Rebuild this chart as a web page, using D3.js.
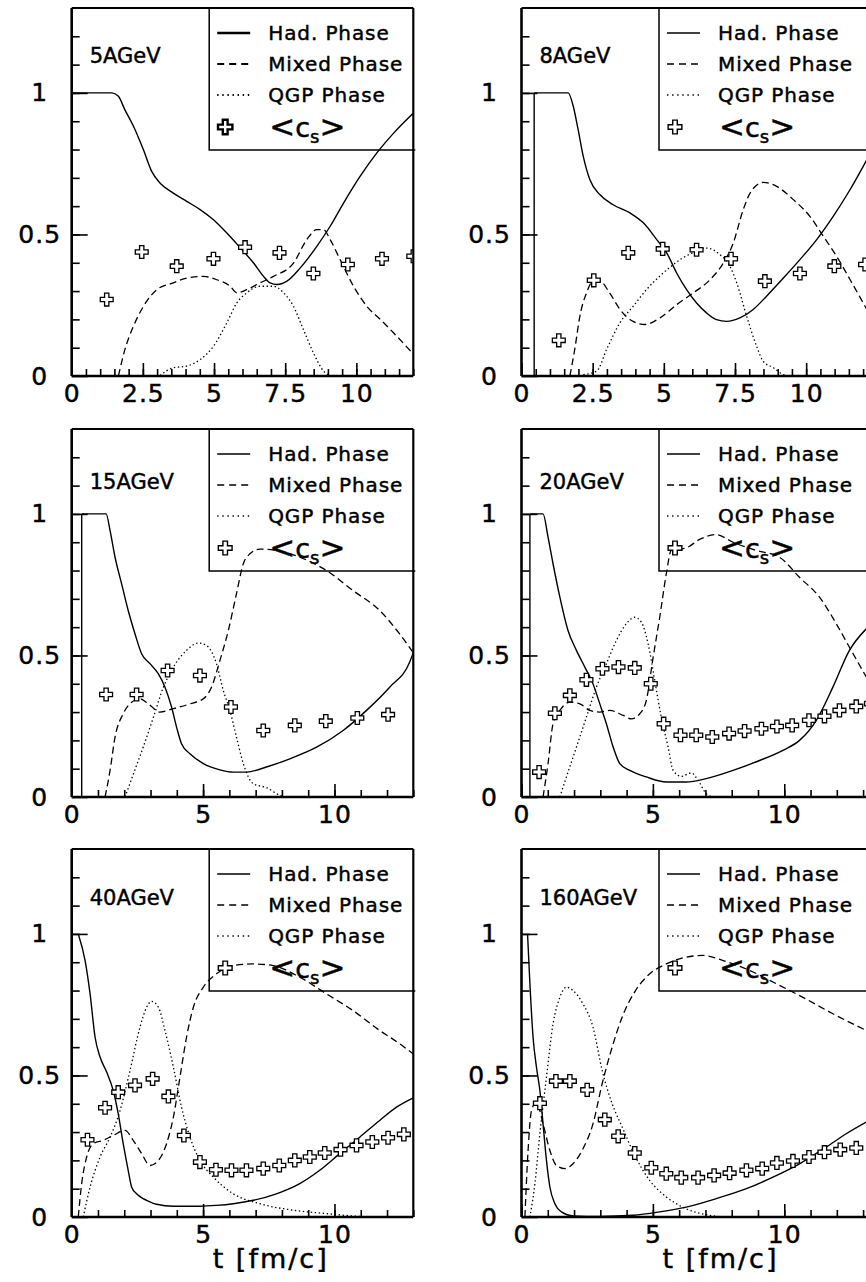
<!DOCTYPE html>
<html>
<head>
<meta charset="utf-8">
<script src="https://cdn.jsdelivr.net/npm/d3@7"></script>
<style>
  body { margin: 0; background: #fff; }
  text { font-family: "DejaVu Sans", sans-serif; fill: #000; stroke: #000; stroke-width: 0.45px; }
</style>
</head>
<body>
<div id="chart"></div>
<script>
// beam energies, one panel each
const energies = ["5AGeV", "8AGeV", "15AGeV", "20AGeV", "40AGeV", "160AGeV"];
const tMax = [12, 12, 13, 13, 13, 13];
const xLabels = [[0, 2.5, 5, 7.5, 10], [0, 2.5, 5, 7.5, 10], [0, 5, 10], [0, 5, 10], [0, 5, 10], [0, 5, 10]];
const xMinorStep = [0.5, 0.5, 1, 1, 1, 1];
const yLabels = [0, 0.5, 1];
const legendNames = ["Had. Phase", "Mixed Phase", "QGP Phase"];

// [t, fraction]
const had5 = [[0,1],[1.41,1],[1.64,0.988],[1.87,0.94],[2.17,0.882],[2.52,0.799],[2.81,0.723],[3.1,0.682],[3.57,0.646],[4.04,0.617],[4.51,0.588],[4.98,0.552],[5.45,0.505],[5.92,0.453],[6.39,0.399],[6.74,0.352],[6.97,0.329],[7.21,0.323],[7.56,0.335],[8.03,0.382],[8.61,0.458],[9.08,0.529],[9.55,0.611],[10.13,0.705],[10.72,0.788],[11.31,0.858],[12.07,0.935]];
const mixed5 = [[1.64,0],[1.87,0.094],[2.17,0.176],[2.52,0.246],[2.99,0.305],[3.57,0.329],[4.04,0.346],[4.63,0.352],[5.1,0.34],[5.57,0.317],[5.8,0.294],[6.15,0.305],[6.62,0.329],[7.09,0.352],[7.79,0.399],[8.26,0.482],[8.61,0.517],[8.85,0.517],[9.08,0.482],[9.43,0.411],[9.9,0.317],[10.37,0.246],[10.84,0.2],[11.31,0.152],[12.07,0.07]];
const qgp5 = [[3.1,0.002],[3.57,0.029],[4.04,0.035],[4.51,0.058],[4.98,0.105],[5.45,0.188],[5.8,0.258],[6.15,0.294],[6.62,0.317],[7.09,0.317],[7.44,0.294],[7.79,0.246],[8.14,0.164],[8.49,0.082],[8.85,0.017],[9.08,0]];
const cs5 = [[1.23,0.27],[2.46,0.438],[3.69,0.388],[4.98,0.414],[6.09,0.455],[7.3,0.435],[8.49,0.362],[9.7,0.394],[10.9,0.414],[12.0,0.423]];

const had8 = [[0.445,0],[0.445,1],[1.64,1],[1.82,0.952],[1.99,0.87],[2.17,0.776],[2.4,0.694],[2.75,0.641],[3.22,0.605],[3.81,0.576],[4.28,0.541],[4.75,0.482],[5.1,0.435],[5.45,0.364],[5.8,0.305],[6.15,0.258],[6.5,0.223],[6.85,0.199],[7.21,0.193],[7.67,0.205],[8.14,0.235],[8.61,0.282],[9.2,0.346],[9.78,0.411],[10.37,0.482],[10.95,0.564],[11.54,0.658],[12.13,0.764]];
const mixed8 = [[1.7,0],[1.87,0.094],[2.05,0.211],[2.28,0.293],[2.52,0.335],[2.75,0.335],[3.1,0.293],[3.46,0.235],[3.92,0.193],[4.34,0.182],[4.86,0.205],[5.45,0.252],[6.03,0.293],[6.62,0.34],[7.09,0.399],[7.44,0.47],[7.79,0.588],[8.03,0.646],[8.49,0.684],[8.96,0.67],[9.55,0.623],[10.13,0.564],[10.6,0.494],[11.07,0.423],[11.54,0.341],[12.13,0.235]];
const qgp8 = [[2.17,0.005],[2.64,0.017],[2.99,0.094],[3.46,0.188],[3.92,0.246],[4.39,0.305],[4.98,0.364],[5.57,0.411],[6.15,0.441],[6.5,0.452],[6.97,0.429],[7.32,0.388],[7.56,0.329],[7.91,0.211],[8.26,0.105],[8.49,0.052],[8.85,0.029],[9.2,0.005],[9.43,0]];
const cs8 = [[1.31,0.126],[2.54,0.338],[3.75,0.435],[4.96,0.449],[6.15,0.446],[7.36,0.414],[8.55,0.335],[9.78,0.362],[10.99,0.388],[12.07,0.394]];

const had15 = [[0.38,0],[0.38,1],[1.31,1],[1.46,0.941],[1.65,0.847],[1.9,0.753],[2.15,0.659],[2.41,0.576],[2.66,0.506],[2.98,0.471],[3.3,0.435],[3.55,0.388],[3.8,0.318],[3.99,0.247],[4.18,0.188],[4.5,0.153],[5.01,0.118],[5.64,0.096],[6.15,0.088],[6.65,0.088],[7.41,0.106],[8.3,0.135],[9.32,0.176],[10.33,0.235],[11.22,0.306],[12.1,0.388],[12.86,0.476],[13.0,0.51]];
const mixed15 = [[1.27,0],[1.46,0.094],[1.65,0.212],[1.96,0.294],[2.28,0.335],[2.6,0.347],[2.92,0.329],[3.36,0.3],[3.87,0.312],[4.5,0.329],[5.01,0.347],[5.32,0.388],[5.64,0.482],[5.96,0.588],[6.27,0.718],[6.53,0.824],[6.78,0.859],[7.16,0.876],[7.79,0.871],[8.68,0.847],[9.7,0.8],[10.71,0.729],[11.72,0.659],[12.48,0.576],[13.0,0.51]];
const qgp15 = [[2.03,0],[2.35,0.082],[2.72,0.176],[3.11,0.282],[3.49,0.388],[3.87,0.459],[4.37,0.518],[4.82,0.544],[5.13,0.535],[5.51,0.471],[5.77,0.376],[6.02,0.306],[6.27,0.212],[6.53,0.118],[6.91,0.047],[7.41,0.033],[7.92,0.006],[8.17,0]];
const cs15 = [[1.31,0.362],[2.47,0.362],[3.65,0.447],[4.88,0.429],[6.06,0.318],[7.29,0.235],[8.49,0.253],[9.67,0.268],[10.87,0.279],[12.04,0.291]];

const had20 = [[0.32,0],[0.32,1],[0.82,1],[1.01,0.918],[1.2,0.824],[1.46,0.706],[1.77,0.588],[2.09,0.518],[2.41,0.459],[2.72,0.4],[2.98,0.329],[3.23,0.259],[3.49,0.176],[3.74,0.118],[4.12,0.094],[4.75,0.071],[5.51,0.053],[6.27,0.053],[7.03,0.065],[8.05,0.094],[9.06,0.129],[9.95,0.165],[10.58,0.2],[11.22,0.271],[11.85,0.388],[12.48,0.518],[13.12,0.594]];
const mixed20 = [[0.82,0],[1.01,0.118],[1.2,0.259],[1.46,0.306],[1.84,0.335],[2.22,0.329],[2.6,0.306],[2.98,0.3],[3.36,0.306],[3.87,0.288],[4.18,0.276],[4.5,0.294],[4.75,0.341],[5.01,0.494],[5.26,0.635],[5.51,0.788],[5.7,0.871],[6.27,0.88],[6.78,0.91],[7.41,0.927],[8.05,0.9],[8.94,0.871],[9.82,0.847],[10.58,0.776],[11.34,0.706],[11.98,0.612],[12.48,0.529],[13.12,0.424]];
const qgp20 = [[1.46,0],[1.71,0.071],[2.09,0.176],[2.47,0.282],[2.85,0.388],[3.23,0.471],[3.61,0.553],[3.99,0.612],[4.31,0.635],[4.56,0.618],[4.82,0.541],[5.07,0.412],[5.32,0.282],[5.58,0.176],[5.77,0.094],[6.08,0.073],[6.46,0.085],[6.72,0.059],[7.03,0.012],[7.29,0]];
const cs20 = [[0.67,0.088],[1.27,0.296],[1.84,0.359],[2.47,0.414],[3.08,0.453],[3.69,0.459],[4.31,0.456],[4.92,0.4],[5.41,0.259],[6.05,0.218],[6.65,0.218],[7.26,0.212],[7.9,0.224],[8.49,0.233],[9.13,0.241],[9.72,0.249],[10.3,0.253],[10.94,0.271],[11.53,0.285],[12.1,0.306],[12.74,0.32],[13.3,0.33]];

const had40 = [[0.25,1],[0.51,0.906],[0.7,0.788],[0.89,0.635],[1.08,0.565],[1.33,0.512],[1.58,0.447],[1.77,0.365],[1.96,0.259],[2.15,0.165],[2.28,0.106],[2.47,0.082],[2.72,0.065],[2.85,0.059],[3.23,0.045],[3.87,0.038],[4.88,0.038],[5.51,0.041],[6.15,0.047],[6.91,0.059],[7.79,0.082],[8.68,0.118],[9.44,0.165],[10.2,0.224],[10.96,0.282],[11.72,0.341],[12.36,0.388],[13.0,0.421]];
const mixed40 = [[0.25,0],[0.38,0.118],[0.57,0.212],[0.82,0.259],[1.2,0.271],[1.58,0.288],[2.03,0.306],[2.34,0.271],[2.66,0.224],[2.98,0.182],[3.3,0.2],[3.61,0.259],[3.87,0.353],[4.12,0.494],[4.37,0.635],[4.63,0.741],[5.01,0.812],[5.51,0.859],[6.15,0.888],[6.91,0.894],[7.67,0.888],[8.68,0.847],[9.7,0.788],[10.71,0.729],[11.72,0.659],[12.48,0.612],[13.0,0.576]];
const qgp40 = [[0.44,0],[0.7,0.106],[1.08,0.212],[1.46,0.282],[1.84,0.376],[2.22,0.518],[2.6,0.671],[2.85,0.741],[3.04,0.762],[3.3,0.741],[3.55,0.659],[3.87,0.529],[4.18,0.388],[4.5,0.282],[4.88,0.2],[5.39,0.141],[6.15,0.082],[7.16,0.047],[8.43,0.024],[9.7,0.012],[10.96,0.002],[11.6,0]];
const cs40 = [[0.6,0.273],[1.27,0.386],[1.77,0.441],[2.41,0.465],[3.08,0.488],[3.68,0.426],[4.27,0.288],[4.88,0.194],[5.49,0.167],[6.08,0.165],[6.65,0.165],[7.29,0.171],[7.9,0.182],[8.49,0.2],[9.06,0.212],[9.63,0.226],[10.23,0.238],[10.84,0.253],[11.44,0.265],[12.04,0.28],[12.64,0.292]];

const had160 = [[0.23,1],[0.32,0.824],[0.44,0.635],[0.57,0.529],[0.7,0.447],[0.82,0.329],[0.95,0.2],[1.08,0.106],[1.27,0.047],[1.52,0.018],[1.96,0.004],[2.98,0.002],[4.25,0.006],[5.26,0.018],[6.27,0.035],[7.41,0.065],[8.56,0.1],[9.57,0.141],[10.58,0.188],[11.6,0.247],[12.36,0.294],[13.12,0.335]];
const mixed160 = [[0.13,0],[0.25,0.235],[0.38,0.376],[0.57,0.406],[0.82,0.329],[1.08,0.235],[1.33,0.182],[1.65,0.171],[1.96,0.188],[2.34,0.241],[2.72,0.329],[3.07,0.471],[3.45,0.6],[3.83,0.706],[4.34,0.8],[4.88,0.859],[5.51,0.894],[6.27,0.918],[6.91,0.924],[7.67,0.906],[8.68,0.871],[9.7,0.824],[10.71,0.776],[11.85,0.718],[13.12,0.659]];
const qgp160 = [[0.32,0],[0.51,0.118],[0.7,0.294],[0.95,0.494],[1.2,0.682],[1.46,0.776],[1.71,0.812],[1.96,0.8],[2.34,0.753],[2.72,0.671],[3.07,0.518],[3.45,0.4],[3.83,0.318],[4.34,0.212],[4.88,0.129],[5.51,0.071],[6.27,0.029],[7.16,0.006],[7.67,0]];
const cs160 = [[0.7,0.402],[1.31,0.48],[1.84,0.48],[2.5,0.449],[3.17,0.344],[3.68,0.285],[4.31,0.226],[4.94,0.174],[5.51,0.153],[6.08,0.139],[6.72,0.139],[7.33,0.147],[7.92,0.155],[8.56,0.165],[9.16,0.171],[9.72,0.191],[10.33,0.198],[10.94,0.212],[11.53,0.229],[12.13,0.238],[12.74,0.244]];

const hadAll = [had5, had8, had15, had20, had40, had160];
const mixedAll = [mixed5, mixed8, mixed15, mixed20, mixed40, mixed160];
const qgpAll = [qgp5, qgp8, qgp15, qgp20, qgp40, qgp160];
const csAll = [cs5, cs8, cs15, cs20, cs40, cs160];

const W = 866, H = 1282;
const colX = [71.7, 521.5];
const rowY = [8, 429, 849];
const plotW = 341.6, plotH = 368;
const titleDy = [55, 60, 56];
const legendRows = [25, 56, 87, 119];
const styles = [
    { dash: null, w: 1.4 },
    { dash: "7,4", w: 1.3 },
    { dash: "1.4,2.6", w: 1.3 }
];

const svg = d3.select("#chart").append("svg")
    .attr("width", W)
    .attr("height", H);
svg.append("rect").attr("width", W).attr("height", H).attr("fill", "#fff").attr("stroke", "none");

const cross = d3.symbol().type(d3.symbolCross);

function drawPanel(i) {
    const col = i % 2, row = Math.floor(i / 2);
    const left = colX[col], top = rowY[row];

    const x = d3.scaleLinear().domain([0, tMax[i]]).range([0, plotW]);
    const y = d3.scaleLinear().domain([0, 1.3]).range([plotH, 0]);

    const g = svg.append("g").attr("transform", "translate(" + left + "," + top + ")");

    // right column is cut by the page edge
    const clipW = col == 1 ? W - left : plotW;
    g.append("clipPath").attr("id", "clip" + i)
        .append("rect").attr("width", clipW).attr("height", plotH);
    const plot = g.append("g").attr("clip-path", "url(#clip" + i + ")");

    const smooth = d3.line()
        .x(d => x(d[0]))
        .y(d => y(d[1]))
        .curve(d3.curveMonotoneX);
    const straight = d3.line()
        .x(d => x(d[0]))
        .y(d => y(d[1]));

    [hadAll[i], mixedAll[i], qgpAll[i]].forEach((s, k) => {
        // a vertical jump (same t twice) is drawn straight, the rest smooth
        const j = s.findIndex((d, n) => n < s.length - 1 && d[0] === s[n + 1][0]);
        const parts = j >= 0 ? [straight(s.slice(0, j + 2)), smooth(s.slice(j + 1))] : [smooth(s)];
        parts.forEach(p => {
            plot.append("path")
                .attr("d", p)
                .attr("fill", "none")
                .attr("stroke", "#000")
                .attr("stroke-width", styles[k].w)
                .attr("stroke-dasharray", styles[k].dash);
        });
    });

    plot.selectAll(".cs")
        .data(csAll[i])
        .enter()
        .append("path")
          .attr("d", cross.size(92)())
          .attr("transform", d => "translate(" + x(d[0]) + "," + y(d[1]) + ")")
          .attr("fill", "#fff")
          .attr("stroke", "#000")
          .attr("stroke-width", 1.3);

    // x ticks, minor then labelled ones
    const minor = d3.range(0, tMax[i] + 0.001, xMinorStep[i]);
    g.append("g")
        .attr("transform", "translate(0," + plotH + ")")
        .call(d3.axisBottom(x).tickValues(minor).tickSize(-7).tickFormat(""))
        .call(a => a.select(".domain").remove());
    const xa = g.append("g")
        .attr("transform", "translate(0," + plotH + ")")
        .call(d3.axisBottom(x).tickValues(xLabels[i]).tickSize(-13).tickPadding(8).tickFormat(d => String(d)));
    xa.select(".domain").remove();
    xa.selectAll("text")
        .style("font-size", "25px")
        .style("letter-spacing", "1px")
        .style("font-family", "DejaVu Sans");

    // y ticks
    g.append("g")
        .call(d3.axisLeft(y).tickValues(d3.range(0.1, 1.25, 0.1)).tickSize(-8).tickFormat(""))
        .call(a => a.select(".domain").remove());
    const ya = g.append("g")
        .call(d3.axisLeft(y).tickValues(yLabels).tickSize(-16).tickFormat(d => String(d)));
    ya.select(".domain").remove();
    ya.selectAll("text")
        .attr("text-anchor", "middle")
        .attr("x", -32)
        .style("font-size", "25px")
        .style("letter-spacing", "1px")
        .style("font-family", "DejaVu Sans");
    g.selectAll(".tick line").attr("stroke-width", 1.6);

    // frame
    const fr = g.append("g").attr("stroke", "#000").attr("fill", "none");
    fr.append("line").attr("x1", 0).attr("x2", 0).attr("y1", 0).attr("y2", plotH).attr("stroke-width", 2.6);
    fr.append("line").attr("x1", 0).attr("x2", clipW).attr("y1", plotH).attr("y2", plotH).attr("stroke-width", 2.6);
    fr.append("line").attr("x1", 0).attr("x2", clipW).attr("y1", 0).attr("y2", 0).attr("stroke-width", 2.2);
    if (col == 0) {
        fr.append("line").attr("x1", plotW).attr("x2", plotW).attr("y1", 0).attr("y2", plotH).attr("stroke-width", 2.2);
    }

    // energy label
    g.append("text")
        .attr("x", 18)
        .attr("y", titleDy[row])
        .style("font-size", "21px")
        .text(energies[i]);

    // legend box (not filled)
    const lx = 137.5;
    const lw = i == 0 ? 2.2 : 1.4;
    const leg = g.append("g").attr("transform", "translate(" + lx + ",0)");
    leg.append("path")
        .attr("d", "M" + (clipW - lx + 2) + ",142H0V0")
        .attr("fill", "none")
        .attr("stroke", "#000")
        .attr("stroke-width", 1.5);
    legendNames.forEach((name, k) => {
        leg.append("line")
            .attr("x1", 8).attr("x2", 41)
            .attr("y1", legendRows[k]).attr("y2", legendRows[k])
            .attr("stroke", "#000")
            .attr("stroke-width", k == 0 ? lw + 0.3 : lw)
            .attr("stroke-dasharray", k == 0 ? null : (k == 1 ? "7,5" : "1.4,3.7"));
        leg.append("text")
            .attr("x", 59)
            .attr("y", legendRows[k] + 7)
            .style("font-size", "20px")
            .style("letter-spacing", "0.9px")
            .text(name);
    });
    leg.append("path")
        .attr("d", cross.size(i == 0 ? 115 : 105)())
        .attr("transform", "translate(16," + legendRows[3] + ")")
        .attr("fill", "#fff")
        .attr("stroke", "#000")
        .attr("stroke-width", i == 0 ? 2.4 : 1.4);
    const cs = leg.append("text")
        .attr("x", 60)
        .attr("y", legendRows[3] + 10);
    cs.append("tspan").style("font-size", "31px").text("<");
    cs.append("tspan").style("font-size", "27px").text("c");
    cs.append("tspan").style("font-size", "18px").attr("dy", 6).text("s");
    cs.append("tspan").style("font-size", "31px").attr("dy", -6).text(">");

    // time axis title on the bottom row
    if (row == 2) {
        g.append("text")
            .attr("x", 199)
            .attr("y", plotH + 51)
            .attr("text-anchor", "middle")
            .style("font-size", "27px")
            .style("letter-spacing", "2px")
            .text("t  [fm/c]");
    }
}

energies.forEach((e, i) => drawPanel(i));
</script>
</body>
</html>
